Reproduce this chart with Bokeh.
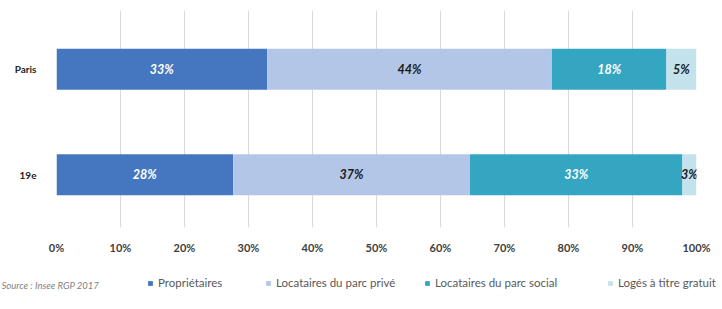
from bokeh.plotting import figure
from bokeh.layouts import column
from bokeh.models import (Range1d, FixedTicker, PrintfTickFormatter, Legend, LegendItem,
                          Label, ColumnDataSource)
from bokeh.core.properties import value
from bokeh.embed import file_html
from bokeh.resources import INLINE

# ---- data ----
zones = ["Paris", "19e"]
zone_pos = [1, 0]
categories = ["Propriétaires", "Locataires du parc privé",
              "Locataires du parc social", "Logés à titre gratuit"]
proprietaires = [32.9, 27.6]
parc_prive = [44.5, 37.0]
parc_social = [17.9, 33.2]
titre_gratuit = [4.7, 2.2]
labels_proprietaires = ["33%", "28%"]
labels_prive = ["44%", "37%"]
labels_social = ["18%", "33%"]
labels_gratuit = ["5%", "3%"]
x_ticks = [0, 10, 20, 30, 40, 50, 60, 70, 80, 90, 100]
source_text = "Source : Insee RGP 2017"

colors = ["#4577c0", "#b4c6e8", "#35a6c2", "#c3e2ec"]
label_colors = ["#ffffff", "#1a1a1a", "#ffffff", "#1a1a1a"]
FONT = "Lato"

series = [proprietaires, parc_prive, parc_social, titre_gratuit]
series_labels = [labels_proprietaires, labels_prive, labels_social, labels_gratuit]
keys = ["prop", "prive", "social", "gratuit"]

data = {"y": zone_pos}
for k, s in zip(keys, series):
    data[k] = s
source = ColumnDataSource(data)

W = 722
H1 = 256
p = figure(width=W, height=H1, output_backend="svg", toolbar_location=None,
           x_range=Range1d(0, 100), y_range=Range1d(-0.5, 1.557),
           min_border_left=56, min_border_right=26, min_border_top=10, min_border_bottom=28)
p.outline_line_color = None
p.background_fill_color = "white"
p.frame_align = False

renderers = p.hbar_stack(keys, y="y", height=0.39, color=colors, source=source, line_color=None)

# bar labels
for i, (s, labs) in enumerate(zip(series, series_labels)):
    xs = []
    for j in range(len(zones)):
        start = sum(series[m][j] for m in range(i))
        xs.append(start + s[j] / 2)
    p.text(x=xs, y=zone_pos, text=labs, text_align="center", text_baseline="middle",
           text_font=value(FONT), text_font_size="12.5px", text_font_style="bold italic",
           text_color=label_colors[i])

# axes
p.xaxis.ticker = FixedTicker(ticks=x_ticks)
p.xaxis.formatter = PrintfTickFormatter(format="%d%%")
p.xaxis.axis_line_color = None
p.xaxis.major_tick_line_color = None
p.xaxis.minor_tick_line_color = None
p.xaxis.major_label_standoff = 7
p.xaxis.major_label_text_font = FONT
p.xaxis.major_label_text_font_style = "bold"
p.xaxis.major_label_text_font_size = "11px"
p.xaxis.major_label_text_color = "#404040"

p.yaxis.ticker = FixedTicker(ticks=zone_pos)
p.yaxis.major_label_overrides = {1: zones[0], 0: zones[1]}
p.yaxis.axis_line_color = None
p.yaxis.major_tick_line_color = None
p.yaxis.minor_tick_line_color = None
p.yaxis.major_label_standoff = 14
p.yaxis.major_label_text_font = FONT
p.yaxis.major_label_text_font_style = "bold"
p.yaxis.major_label_text_font_size = "10px"
p.yaxis.major_label_text_color = "#262626"

p.xgrid.grid_line_color = "#d9d9d9"
p.ygrid.grid_line_color = None

# ---- legend strip (its own small figure, frame = whole strip) ----
H2 = 309 - H1
q = figure(width=W, height=H2, output_backend="svg", toolbar_location=None,
           x_range=Range1d(0, 100), y_range=Range1d(2, 3),
           min_border_left=0, min_border_right=0, min_border_top=0, min_border_bottom=0,
           x_axis_location=None, y_axis_location=None)
q.outline_line_color = None
q.xgrid.grid_line_color = None
q.ygrid.grid_line_color = None
q.frame_align = False

# legend proxies: same data, outside this strip's visible y-range
legend_x = [147, 265, 424, 607]
for k, cat, col, lx in zip(keys, categories, colors, legend_x):
    r = q.hbar(y="y", right=k, height=0.39, color=col, source=source, line_color=None)
    lg = Legend(items=[LegendItem(label=cat, renderers=[r])],
                orientation="horizontal", location=(lx, 20),
                glyph_width=6, glyph_height=6, label_standoff=5, spacing=0,
                padding=0, margin=0, border_line_color=None, background_fill_alpha=0,
                label_text_font=FONT, label_text_font_size="11.5px", label_text_color="#595959",
                label_height=12)
    q.add_layout(lg)

q.add_layout(Label(x=1, y=24, x_units="screen", y_units="screen", text=source_text,
                   text_font=FONT, text_font_size="9.5px", text_font_style="italic",
                   text_color="#7f7f7f", text_baseline="middle"))

layout = column(p, q, spacing=0)
open("out.html", "w").write(file_html(layout, INLINE))
